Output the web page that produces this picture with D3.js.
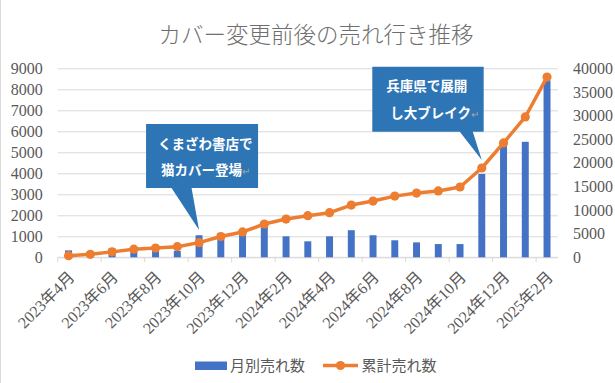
<!DOCTYPE html>
<html><head><meta charset="utf-8">
<script src="https://cdn.jsdelivr.net/npm/d3@7"></script>
<style>
html,body{margin:0;padding:0;background:#fff;}
svg{display:block;}
</style></head>
<body>
<svg id="chart" width="615" height="383"></svg>
<script>
const title = "カバー変更前後の売れ行き推移";
const categories = ["2023年4月","2023年5月","2023年6月","2023年7月","2023年8月","2023年9月","2023年10月","2023年11月","2023年12月",
  "2024年1月","2024年2月","2024年3月","2024年4月","2024年5月","2024年6月","2024年7月","2024年8月","2024年9月","2024年10月","2024年11月","2024年12月",
  "2025年1月","2025年2月"];
const monthly = [330,280,420,480,300,300,1050,1160,1250,1500,1000,760,1000,1290,1050,810,710,630,630,3970,5300,5500,8430];
const cumulative = [350,640,1150,1720,1960,2250,3100,4400,5360,7050,8100,8800,9450,11050,11900,12950,13600,14050,14880,18900,24200,29700,38150];
const leftTicks = [0,1000,2000,3000,4000,5000,6000,7000,8000,9000];
const rightTicks = [0,5000,10000,15000,20000,25000,30000,35000,40000];
const seriesNames = ["月別売れ数","累計売れ数"];
const callouts = [
  {cat:"2023年10月", value:1300, lines:["くまざわ書店で","猫カバー登場"]},
  {cat:"2024年11月", value:4630, lines:["兵庫県で展開","し大ブレイク"]}
];

const svg = d3.select("#chart");
const L = 57.7, R = 557.9, B = 257.3, T = 68.3;
const blue = "#4472C4", orange = "#ED7D31", grid = "#d9d9d9", txt = "#595959";
const serif = "'Liberation Serif','Noto Sans CJK JP',serif";
const sans = "'Noto Sans CJK JP','Noto Sans',sans-serif";

svg.append("rect").attr("width",615).attr("height",383).attr("fill","#fff");
svg.append("line").attr("x1",0.5).attr("x2",0.5).attr("y1",0).attr("y2",383).attr("stroke","#d9d9d9");

const x = d3.scaleBand().domain(categories).range([L,R]).paddingInner(0.68).paddingOuter(0.34);
const step = x.step();
const cx = c => x(c) + x.bandwidth()/2;
const yL = d3.scaleLinear().domain([0,9000]).range([B,T]);
const yR = d3.scaleLinear().domain([0,40000]).range([B,T]);

// gridlines + left axis
const gl = svg.append("g").attr("transform",`translate(${L},0)`)
  .call(d3.axisLeft(yL).tickValues(leftTicks).tickSize(-(R-L)).tickPadding(15).tickFormat(d3.format("d")));
gl.select(".domain").remove();
gl.selectAll(".tick line").attr("stroke",grid).attr("stroke-width",1);
gl.selectAll(".tick text").attr("fill",txt).style("font-family",serif).style("font-size","16px");

// right axis
const gr = svg.append("g").attr("transform",`translate(${R},0)`)
  .call(d3.axisRight(yR).tickValues(rightTicks).tickSize(0).tickPadding(15).tickFormat(d3.format("d")));
gr.select(".domain").remove();
gr.selectAll(".tick text").attr("fill",txt).style("font-family",serif).style("font-size","16px");

// bottom axis line + boundary ticks
svg.append("line").attr("x1",L).attr("x2",R).attr("y1",B).attr("y2",B).attr("stroke",grid);
const bounds = categories.filter((c,i)=>i%2===0);
svg.append("g").selectAll("line").data(bounds).join("line")
  .attr("x1",c=>x(c)-(step-x.bandwidth())/2).attr("x2",c=>x(c)-(step-x.bandwidth())/2)
  .attr("y1",B).attr("y2",B+5).attr("stroke",grid);

// bottom labels
svg.append("g").selectAll("text").data(bounds).join("text")
  .attr("transform",c=>`translate(${cx(c)+3},${B+17}) rotate(-45)`)
  .attr("text-anchor","end").attr("dy","0.35em")
  .attr("fill",txt).style("font-family",serif).style("font-size","16px")
  .text(c=>c);

// bars
svg.append("g").selectAll("rect").data(categories).join("rect")
  .attr("x",c=>x(c)).attr("width",x.bandwidth())
  .attr("y",(c,i)=>yL(monthly[i])).attr("height",(c,i)=>B-yL(monthly[i]))
  .attr("fill",blue);

// line
const lineGen = d3.line().x((d,i)=>cx(categories[i])).y(d=>yR(d));
svg.append("path").datum(cumulative).attr("d",lineGen)
  .attr("fill","none").attr("stroke",orange).attr("stroke-width",3.5).attr("stroke-linejoin","round");
svg.append("g").selectAll("circle").data(cumulative).join("circle")
  .attr("cx",(d,i)=>cx(categories[i])).attr("cy",d=>yR(d)).attr("r",4.6).attr("fill",orange);

// callouts
const cbox = [
  {dx:-53, dy:-106, w:112, h:64, b1:-27.5, b2:-7.5, tx:[12,15]},
  {dx:-109.5, dy:-93.3, w:111.4, h:65, b1:-22, b2:-9, tx:[14,18]}
];
callouts.forEach((co,k)=>{
  const tx = cx(co.cat), ty = yL(co.value), s = cbox[k];
  const g = svg.append("g");
  const left = tx + s.dx, top = ty + s.dy, bot = top + s.h;
  g.append("path").attr("d",`M${left},${top}H${left+s.w}V${bot}H${tx+s.b2}L${tx},${ty}L${tx+s.b1},${bot}H${left}Z`)
    .attr("fill","#2E75B6");
  co.lines.forEach((ln,j)=>{
    const t = g.append("text").attr("x",left+s.tx[j]).attr("y",top + 20 + j*26.5 + 4.5)
      .attr("fill","#fff").style("font-family",sans).style("font-size","13.5px").style("font-weight","bold")
      .text(ln);
    if(j===1) t.append("tspan").attr("fill","#a6a6a6").style("font-size","10px").style("font-weight","normal").text("↵");
  });
});

// title
svg.append("text").attr("x",316).attr("y",43).attr("text-anchor","middle")
  .attr("fill","#6e6e6e").style("font-family",sans).style("font-size","22.5px").style("font-weight","300")
  .text(title);

// legend
const lg = svg.append("g");
lg.append("rect").attr("x",195).attr("y",361.5).attr("width",32).attr("height",8.5).attr("fill",blue);
lg.append("text").attr("x",230).attr("y",365.5).attr("dy","0.35em").attr("fill",txt)
  .style("font-family",sans).style("font-size","15px").text(seriesNames[0]);
lg.append("line").attr("x1",323).attr("x2",358).attr("y1",365.5).attr("y2",365.5).attr("stroke",orange).attr("stroke-width",3.5);
lg.append("circle").attr("cx",340.5).attr("cy",365.5).attr("r",4.6).attr("fill",orange);
lg.append("text").attr("x",361.5).attr("y",365.5).attr("dy","0.35em").attr("fill",txt)
  .style("font-family",sans).style("font-size","15px").text(seriesNames[1]);
</script>
</body></html>
